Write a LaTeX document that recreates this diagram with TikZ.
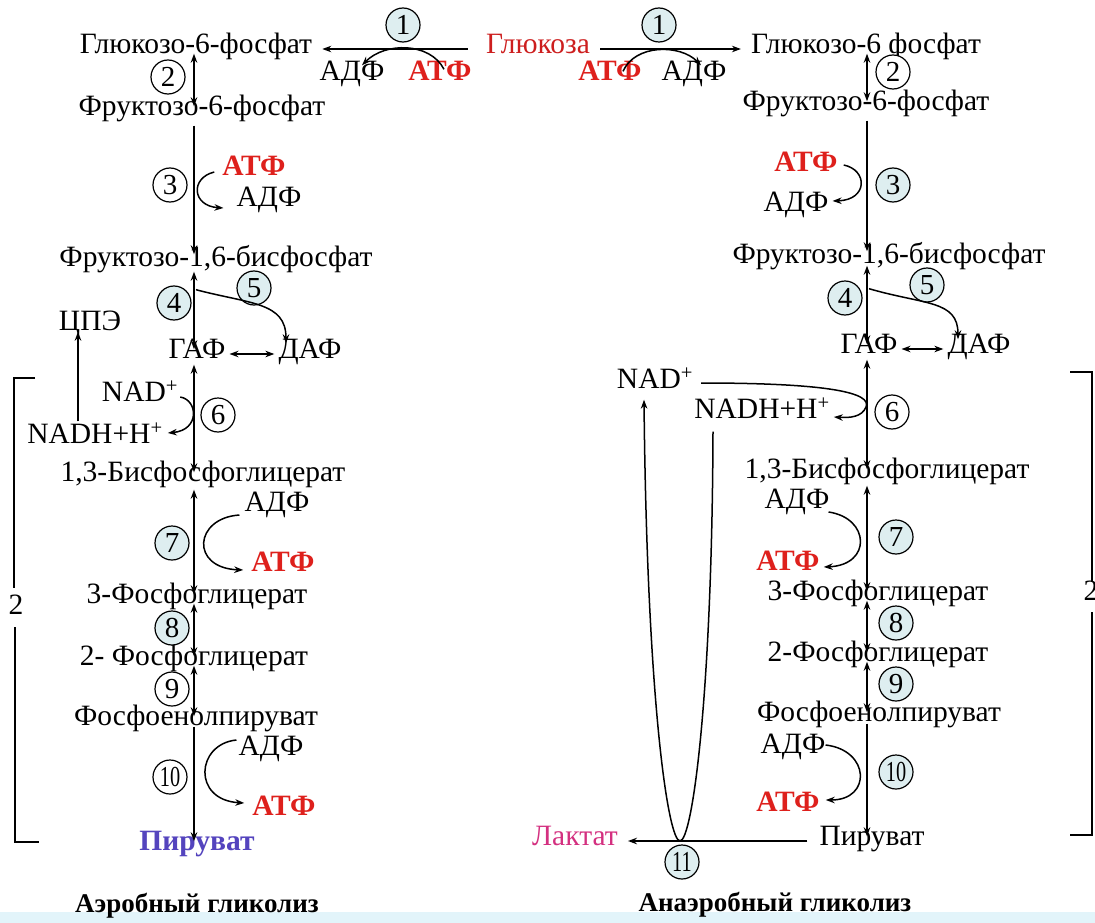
\documentclass[tikz,border=0pt]{standalone}
\usepackage{fontspec}
\setmainfont{Liberation Serif}
\usetikzlibrary{arrows.meta,calc}

\definecolor{atpred}{RGB}{222,32,28}
\definecolor{glucred}{RGB}{205,30,30}
\definecolor{lacmag}{RGB}{212,48,128}
\definecolor{pyrblue}{RGB}{84,68,190}
\definecolor{numfill}{RGB}{222,238,240}
\definecolor{stripcyan}{RGB}{226,244,250}

\newcommand{\mainfs}{\fontsize{29.5}{31}\selectfont}
\newcommand{\capfs}{\fontsize{27}{29}\selectfont\bfseries}
\newcommand{\numfs}{\fontsize{29}{30}\selectfont}
\newcommand{\narrow}[1]{\scalebox{0.7}[1]{#1}}

\tikzset{
  txt/.style={font=\mainfs, inner sep=0pt, text height=0.86em, text depth=0.04em, anchor=center, yshift=-4pt},
  atp/.style={txt, font=\mainfs\bfseries, text=atpred},
  captxt/.style={font=\capfs, inner sep=0pt, text height=0.86em, text depth=0.04em, yshift=-4pt},
  num/.style={circle, draw, line width=1.2pt, fill=numfill, minimum size=34pt, inner sep=0pt, font=\numfs},
  arr/.style={-{Stealth[length=9pt,width=6.5pt]}, line width=1.5pt},
  darr/.style={{Stealth[length=9pt,width=6.5pt]}-{Stealth[length=9pt,width=6.5pt]}, line width=1.5pt},
  brk/.style={line width=1.5pt},
}

\begin{document}
\begin{tikzpicture}[x=1pt,y=-1pt]
\useasboundingbox (0,0) rectangle (1095,923);
\fill[white] (0,0) rectangle (1095,923);
\fill[stripcyan] (0,912) rectangle (1095,923);

% vertical axes of the two pathways
\coordinate (axL) at (194,0);
\coordinate (axR) at (867,0);

% ---------- glucose and step 1 ----------
\node[txt, text=glucred] (glu) at (538,45) {Глюкоза};

% ---------- aerobic pathway ----------
\node[txt] (g6pL) at (196,45) {Глюкозо-6-фосфат};
\node[txt] (f6pL) at (202,107) {Фруктозо-6-фосфат};
\node[txt] (fbpL) at (216,258) {Фруктозо-1,6-бисфосфат};
\node[txt] (gafL) at (197,350) {ГАФ};
\node[txt] (dafL) at (310,350) {ДАФ};
\node[txt] (cpe) at (90,322) {ЦПЭ};
\node[txt] (nadL) at (140,393) {NAD\textsuperscript{+}};
\node[txt] (nadhL) at (95,435) {NADH+H\textsuperscript{+}};
\node[txt] (bpgL) at (203,473) {1,3-Бисфосфоглицерат};
\node[txt] (pg3L) at (197,595) {3-Фосфоглицерат};
\node[txt] (pg2L) at (194,657) {2- Фосфоглицерат};
\node[txt] (pepL) at (196,717) {Фосфоенолпируват};
\node[txt, font=\mainfs\bfseries, text=pyrblue] (pyrL) at (197,842) {Пируват};
\node[captxt] (aero) at (197,904) {Аэробный гликолиз};

\node[txt] (adp1L) at (352,72) {АДФ};
\node[atp] (atp1L) at (440,72) {АТФ};
\node[atp] (atp3L) at (254,167) {АТФ};
\node[txt] (adp3L) at (269,198) {АДФ};
\node[txt] (adp7L) at (277,503) {АДФ};
\node[atp] (atp7L) at (283,563) {АТФ};
\node[txt] (adp10L) at (271,747) {АДФ};
\node[atp] (atp10L) at (284,807) {АТФ};

\node[num] (n1L) at (403,25) {1};
\node[num, fill=white] (n2L) at (168,77) {2};
\node[num, fill=white] (n3L) at (170,185) {3};
\node[num] (n4L) at (174,303) {4};
\node[num] (n5L) at (254,288) {5};
\node[num, fill=white] (n6L) at (218,415) {6};
\node[num] (n7L) at (172,543) {7};
\node[num] (n8L) at (172,628) {8};
\node[num, fill=white] (n9L) at (172,689) {9};
\node[num, fill=white] (n10L) at (170,777) {\narrow{10}};

% main chain, aerobic
\draw[arr, shorten <=18pt, shorten >=10pt] (glu.west) -- (g6pL.east);
\draw[darr] (g6pL.south -| axL) -- (f6pL.north -| axL);
\draw[arr, shorten <=10pt, shorten >=3pt] (f6pL.south -| axL) -- (fbpL.north -| axL);
\draw[darr, shorten <=5pt] (fbpL.south -| axL) -- (gafL.north -| axL);
\draw[darr, shorten <=6pt] (gafL.south -| axL) -- (bpgL.north -| axL);
\draw[darr, shorten <=8pt] (bpgL.south -| axL) -- (pg3L.north -| axL);
\draw[darr] (pg3L.south -| axL) -- (pg2L.north -| axL);
\draw[darr] (pg2L.south -| axL) -- (pepL.north -| axL);
\draw[arr, shorten <=1pt] (pepL.south -| axL) -- (pyrL.north -| axL);
\draw[darr, shorten <=4pt, shorten >=4pt] (gafL.east) -- (dafL.west);

% side reactions, aerobic
\draw[arr] ($(atp1L.north)+(4,-2)$) .. controls (430,42) and (385,42) .. ($(adp1L.north)+(10,-6)$);
\draw[arr] ($(atp3L.west)+(-8,1)$) .. controls (190,178) and (192,206) .. ($(adp3L.west)+(-13,6)$);
\draw[arr] ($(fbpL.south -| axL)+(2,23)$) .. controls (250,304) and (286,302) .. ($(dafL.north)+(-24,-6)$);
\draw[arr] ($(nadL.east)+(2,0)$) .. controls (198,400) and (200,430) .. ($(nadhL.east)+(5,-6)$);
\draw[arr] ($(nadhL.north)+(-17,-13)$) -- ($(cpe.south)+(-12,1)$);
\draw[arr] ($(adp7L.west)+(-5,8)$) .. controls (194,518) and (190,568) .. ($(atp7L.west)+(-8,3)$);
\draw[arr] ($(adp10L.west)+(-2,-11)$) .. controls (196,744) and (192,800) .. ($(atp10L.west)+(-8,-8)$);

% bracket, aerobic
\draw[brk] (35,378) -- (14,378) -- (14,588);
\node[txt] (twoL) at (16,606) {2};
\draw[brk] (15,627) -- (15,842) -- (39,842);

% ---------- anaerobic pathway ----------
\node[txt] (g6pR) at (866,45) {Глюкозо-6 фосфат};
\node[txt] (f6pR) at (866,102) {Фруктозо-6-фосфат};
\node[txt] (fbpR) at (889,255) {Фруктозо-1,6-бисфосфат};
\node[txt] (gafR) at (869,345) {ГАФ};
\node[txt] (dafR) at (979,345) {ДАФ};
\node[txt] (nadR) at (655,380) {NAD\textsuperscript{+}};
\node[txt] (nadhR) at (762,410) {NADH+H\textsuperscript{+}};
\node[txt] (bpgR) at (887,470) {1,3-Бисфосфоглицерат};
\node[txt] (pg3R) at (878,592) {3-Фосфоглицерат};
\node[txt] (pg2R) at (878,653) {2-Фосфоглицерат};
\node[txt] (pepR) at (879,713) {Фосфоенолпируват};
\node[txt] (pyrR) at (872,837) {Пируват};
\node[txt, text=lacmag] (lac) at (575,837) {Лактат};
\node[captxt] (anaero) at (775,903) {Анаэробный гликолиз};

\node[atp] (atp1R) at (610,72) {АТФ};
\node[txt] (adp1R) at (694,72) {АДФ};
\node[atp] (atp3R) at (806,163) {АТФ};
\node[txt] (adp3R) at (796,203) {АДФ};
\node[txt] (adp7R) at (797,500) {АДФ};
\node[atp] (atp7R) at (788,562) {АТФ};
\node[txt] (adp10R) at (793,745) {АДФ};
\node[atp] (atp10R) at (788,803) {АТФ};

\node[num] (n1R) at (659,25) {1};
\node[num, fill=white] (n2R) at (893,72) {2};
\node[num] (n3R) at (893,185) {3};
\node[num] (n4R) at (845,298) {4};
\node[num] (n5R) at (927,285) {5};
\node[num, fill=white] (n6R) at (892,412) {6};
\node[num] (n7R) at (896,537) {7};
\node[num] (n8R) at (896,623) {8};
\node[num] (n9R) at (896,684) {9};
\node[num] (n10R) at (896,772) {\narrow{10}};
\node[num] (n11) at (682,862) {\narrow{11}};

% main chain, anaerobic
\draw[arr, shorten <=10pt, shorten >=10pt] (glu.east) -- (g6pR.west);
\draw[darr] (g6pR.south -| axR) -- (f6pR.north -| axR);
\draw[arr, shorten <=10pt, shorten >=3pt] (f6pR.south -| axR) -- (fbpR.north -| axR);
\draw[darr, shorten <=2pt] (fbpR.south -| axR) -- (gafR.north -| axR);
\draw[darr, shorten <=6pt] (gafR.south -| axR) -- (bpgR.north -| axR);
\draw[darr, shorten <=7pt] (bpgR.south -| axR) -- (pg3R.north -| axR);
\draw[darr] (pg3R.south -| axR) -- (pg2R.north -| axR);
\draw[darr] (pg2R.south -| axR) -- (pepR.north -| axR);
\draw[arr, shorten <=2pt] (pepR.south -| axR) -- (pyrR.north -| axR);
\draw[darr, shorten <=4pt, shorten >=4pt] (gafR.east) -- (dafR.west);
\draw[arr, shorten <=12pt, shorten >=10pt] (pyrR.west) -- (pyrR.west -| lac.east);

% side reactions, anaerobic
\draw[arr] ($(atp1R.north)+(13,0)$) .. controls (635,44) and (680,44) .. ($(adp1R.north)+(7,-6)$);
\draw[arr] ($(atp3R.east)+(6,-2)$) .. controls (868,170) and (868,200) .. ($(adp3R.east)+(4,-6)$);
\draw[arr] ($(fbpR.south -| axR)+(2,25)$) .. controls (925,305) and (958,300) .. ($(dafR.north)+(-21,-5)$);
\draw[arr] ($(nadR.east)+(8,-1)$) .. controls (830,383) and (872,393) .. (866,407)
   .. controls (862,417) and (850,418) .. ($(nadhR.east)+(4,3)$);
\draw[arr] ($(adp7R.east)+(-1,8)$) .. controls (870,518) and (872,565) .. ($(atp7R.east)+(4,1)$);
\draw[arr] ($(adp10R.east)+(0,-4)$) .. controls (870,750) and (872,800) .. ($(atp10R.east)+(6,-7)$);

% NAD regeneration loop through step 11
\coordinate (loopbot) at (680,841);
\draw[arr] ($(nadhR.south)+(-49,13)$) .. controls (712,700) and (692,841) .. (loopbot)
   .. controls (668,841) and (647,700) .. ($(nadR.south)+(-11,11)$);

% bracket, anaerobic
\draw[brk] (1070,372) -- (1092,372) -- (1092,582);
\node[txt] (twoR) at (1091,592) {2};
\draw[brk] (1092,612) -- (1092,835) -- (1070,835);
\end{tikzpicture}
\end{document}
